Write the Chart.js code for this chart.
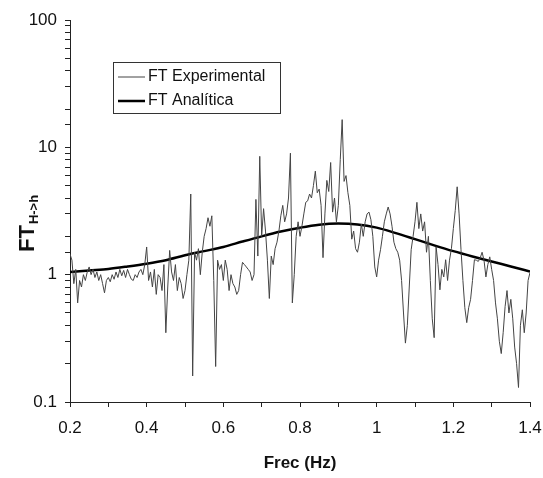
<!DOCTYPE html>
<html>
<head>
<meta charset="utf-8">
<script src="https://cdn.jsdelivr.net/npm/chart.js@4.4.1/dist/chart.umd.min.js"></script>
<style>
  html, body { margin: 0; padding: 0; background: #fff; }
  #wrap { width: 543px; height: 478px; }
</style>
</head>
<body>
<div id="wrap"><canvas id="chart" width="543" height="478"></canvas></div>
<script>
'use strict';

// frequencies (Hz) of the measured curve
const freqExp = [
  0.200, 0.205, 0.210, 0.215, 0.220, 0.225, 0.230, 0.235, 0.240, 0.245,
  0.250, 0.255, 0.260, 0.265, 0.270, 0.275, 0.280, 0.285, 0.290, 0.295,
  0.300, 0.305, 0.310, 0.315, 0.320, 0.325, 0.330, 0.335, 0.340, 0.345,
  0.350, 0.355, 0.360, 0.365, 0.370, 0.375, 0.380, 0.385, 0.390, 0.395,
  0.400, 0.405, 0.410, 0.415, 0.420, 0.425, 0.430, 0.435, 0.440, 0.445,
  0.450, 0.455, 0.460, 0.465, 0.470, 0.475, 0.480, 0.485, 0.490, 0.495,
  0.500, 0.505, 0.510, 0.515, 0.520, 0.525, 0.530, 0.535, 0.540, 0.545,
  0.550, 0.555, 0.560, 0.565, 0.570, 0.575, 0.580, 0.585, 0.590, 0.595,
  0.600, 0.605, 0.610, 0.615, 0.620, 0.625, 0.630, 0.635, 0.640, 0.645,
  0.650, 0.655, 0.660, 0.665, 0.670, 0.675, 0.680, 0.685, 0.690, 0.695,
  0.700, 0.705, 0.710, 0.715, 0.720, 0.725, 0.730, 0.735, 0.740, 0.745,
  0.750, 0.755, 0.760, 0.765, 0.770, 0.775, 0.780, 0.785, 0.790, 0.795,
  0.800, 0.805, 0.810, 0.815, 0.820, 0.825, 0.830, 0.835, 0.840, 0.845,
  0.850, 0.855, 0.860, 0.865, 0.870, 0.875, 0.880, 0.885, 0.890, 0.895,
  0.900, 0.905, 0.910, 0.915, 0.920, 0.925, 0.930, 0.935, 0.940, 0.945,
  0.950, 0.955, 0.960, 0.965, 0.970, 0.975, 0.980, 0.985, 0.990, 0.995,
  1.000, 1.005, 1.010, 1.015, 1.020, 1.025, 1.030, 1.035, 1.040, 1.045,
  1.050, 1.055, 1.060, 1.065, 1.070, 1.075, 1.080, 1.085, 1.090, 1.095,
  1.100, 1.105, 1.110, 1.115, 1.120, 1.125, 1.130, 1.135, 1.140, 1.145,
  1.150, 1.155, 1.160, 1.165, 1.170, 1.175, 1.180, 1.185, 1.190, 1.195,
  1.200, 1.205, 1.210, 1.215, 1.220, 1.225, 1.230, 1.235, 1.240, 1.245,
  1.250, 1.255, 1.260, 1.265, 1.270, 1.275, 1.280, 1.285, 1.290, 1.295,
  1.300, 1.305, 1.310, 1.315, 1.320, 1.325, 1.330, 1.335, 1.340, 1.345,
  1.350, 1.355, 1.360, 1.365, 1.370, 1.375, 1.380, 1.385, 1.390, 1.395,
  1.400
];

// FT experimental
const ftExp = [
  1.45, 1.3, 0.85, 1.1, 0.6, 0.9, 0.8, 1.0, 0.9, 1.05,
  1.15, 1.0, 1.1, 0.95, 1.05, 0.9, 1.0, 0.85, 0.72, 0.9,
  0.95, 0.88, 1.0, 0.92, 1.05, 0.95, 1.1, 0.98, 1.08, 0.95,
  1.1, 1.0, 0.92, 0.9, 1.0, 0.95, 1.05, 1.1, 1.0, 1.2,
  1.65, 0.9, 1.05, 0.8, 1.1, 0.7, 1.0, 0.95, 0.75, 1.2,
  0.35, 0.8, 1.55, 1.05, 0.9, 1.2, 0.75, 0.95, 0.85, 0.65,
  0.75, 1.0, 1.3, 4.3, 0.16, 1.5, 1.3, 1.6, 1.0, 1.5,
  2.0, 2.3, 2.8, 2.4, 2.9, 0.9, 0.19, 1.3, 1.1, 1.2,
  0.9, 1.3, 1.1, 0.75, 1.0, 0.85, 0.8, 0.7, 0.75, 1.0,
  1.25, 1.2, 1.15, 1.1, 1.05, 0.9, 1.0, 3.9, 1.4, 8.5,
  2.0, 3.3, 2.2, 1.3, 0.65, 1.4, 1.2, 1.6, 1.8, 2.2,
  2.9, 3.5, 2.6, 3.0, 4.0, 9.0, 0.6, 1.0, 2.0, 2.6,
  2.0, 2.4, 3.0, 3.7, 3.8, 4.3, 4.0, 5.0, 6.5, 4.4,
  4.7, 3.5, 1.36, 3.0, 5.5, 4.5, 7.6, 3.1, 4.0, 2.6,
  3.5, 8.0, 16.5, 5.4, 6.0, 4.4, 3.5, 1.9, 2.2, 1.6,
  1.5, 1.8, 2.5, 2.0, 2.6, 3.0, 3.1, 2.7, 2.0, 1.15,
  0.96, 1.3, 1.57, 2.0, 2.6, 3.0, 3.4, 3.0, 2.4, 1.8,
  1.6, 1.5, 1.3, 0.9, 0.5, 0.29, 0.4, 0.8, 1.57, 2.0,
  2.6, 3.7, 2.3, 3.0, 2.2, 2.6, 1.5, 2.0, 0.9, 0.45,
  0.32, 1.66, 1.2, 0.76, 1.1, 0.96, 1.31, 0.9, 1.3, 1.6,
  2.3, 3.2, 4.9, 3.0, 1.57, 0.9, 0.55, 0.42, 0.55, 0.64,
  0.9, 1.31, 1.3, 1.27, 1.35, 1.5, 1.3, 0.96, 1.2, 1.38,
  1.1, 0.9, 0.6, 0.45, 0.3, 0.24, 0.35, 0.56, 0.75, 0.5,
  0.64, 0.45, 0.27, 0.2, 0.13, 0.4, 0.53, 0.35, 0.5, 0.9,
  1.04
];

// analytic transfer function
const freqAna = [0.2, 0.25, 0.3, 0.35, 0.4, 0.45, 0.5, 0.55, 0.6, 0.65, 0.7, 0.75, 0.8,
  0.85, 0.9, 0.95, 1.0, 1.05, 1.1, 1.15, 1.2, 1.25, 1.3, 1.35, 1.4];
const ftAna = [1.05, 1.08, 1.11, 1.16, 1.22, 1.3, 1.42, 1.53, 1.65, 1.82, 2.0, 2.18, 2.34,
  2.47, 2.52, 2.48, 2.34, 2.12, 1.9, 1.7, 1.53, 1.39, 1.27, 1.16, 1.06];

const yTickLabels = [0.1, 1, 10, 100];
const seriesNames = ['FT Experimental', 'FT Analítica'];

const FONT = "'Liberation Sans', Arial, sans-serif";

function pairs(xs, ys) {
  return xs.map((x, i) => ({ x: x, y: ys[i] }));
}

// axis titles + legend box drawn straight on the canvas
const decorations = {
  id: 'decorations',
  afterDraw(chart) {
    const ctx = chart.ctx;
    const area = chart.chartArea;
    ctx.save();

    // x title
    ctx.fillStyle = '#111';
    ctx.font = 'bold 17px ' + FONT;
    ctx.textAlign = 'center';
    ctx.textBaseline = 'middle';
    ctx.fillText('Frec (Hz)', (area.left + area.right) / 2, 463);

    // y title FT with subscript H->h
    ctx.translate(26, 252);
    ctx.rotate(-Math.PI / 2);
    ctx.textAlign = 'left';
    ctx.textBaseline = 'alphabetic';
    ctx.font = 'bold 22px ' + FONT;
    ctx.fillText('FT', 0, 8);
    let w = ctx.measureText('FT').width;
    ctx.font = 'bold 13px ' + FONT;
    ctx.fillText('H->h', w + 1, 12);
    ctx.setTransform(1, 0, 0, 1, 0, 0);

    // legend
    const bx = 113, by = 62, bw = 167, bh = 51;
    ctx.fillStyle = '#fff';
    ctx.fillRect(bx, by, bw, bh);
    ctx.strokeStyle = '#333';
    ctx.lineWidth = 1;
    ctx.strokeRect(bx + 0.5, by + 0.5, bw, bh);

    chart.data.datasets.forEach((ds, i) => {
      const ly = by + 15 + i * 24;
      ctx.strokeStyle = ds.borderColor;
      ctx.lineWidth = ds.borderWidth;
      ctx.beginPath();
      ctx.moveTo(bx + 5, ly);
      ctx.lineTo(bx + 32, ly);
      ctx.stroke();
      ctx.fillStyle = '#111';
      ctx.font = '16px ' + FONT;
      ctx.textAlign = 'left';
      ctx.textBaseline = 'middle';
      ctx.fillText(ds.label, bx + 35, ly);
    });
    ctx.restore();
  }
};

const ctx = document.getElementById('chart').getContext('2d');
const chart = new Chart(ctx, {
  type: 'line',
  data: {
    datasets: [
      {
        label: seriesNames[0],
        data: pairs(freqExp, ftExp),
        borderColor: '#444',
        borderWidth: 1,
        pointRadius: 0,
        tension: 0
      },
      {
        label: seriesNames[1],
        data: pairs(freqAna, ftAna),
        borderColor: '#000',
        borderWidth: 2.5,
        pointRadius: 0,
        cubicInterpolationMode: 'monotone'
      }
    ]
  },
  options: {
    responsive: false,
    animation: false,
    layout: { padding: { left: 0, right: 13, top: 20, bottom: 0 } },
    plugins: {
      legend: { display: false },
      tooltip: { enabled: false }
    },
    scales: {
      x: {
        type: 'linear',
        min: 0.2,
        max: 1.4,
        border: { display: true, color: '#222', width: 1 },
        grid: { drawOnChartArea: false, drawTicks: true, tickLength: 5, color: '#222' },
        ticks: {
          stepSize: 0.1,
          autoSkip: false,
          maxRotation: 0,
          padding: 11,
          color: '#111',
          font: { family: FONT, size: 17 },
          callback: (v, i) => (i % 2 === 0 ? String(Math.round(v * 10) / 10) : '')
        },
        afterFit: (s) => {
          s.height = 76;
          s.paddingLeft = 0;
          s.paddingRight = 0;
        }
      },
      y: {
        type: 'logarithmic',
        min: 0.1,
        max: 100,
        border: { display: true, color: '#222', width: 1 },
        grid: { drawOnChartArea: false, drawTicks: true, tickLength: 5, color: '#222' },
        ticks: {
          autoSkip: false,
          padding: 8,
          color: '#111',
          font: { family: FONT, size: 17 },
          callback: (v) => {
            const hit = yTickLabels.find(t => Math.abs(t - v) < t * 1e-6);
            return hit !== undefined ? String(hit) : '';
          }
        },
        afterFit: (s) => {
          s.width = 70;
          s.paddingTop = 0;
          s.paddingBottom = 0;
        }
      }
    }
  },
  plugins: [decorations]
});
</script>
</body>
</html>
